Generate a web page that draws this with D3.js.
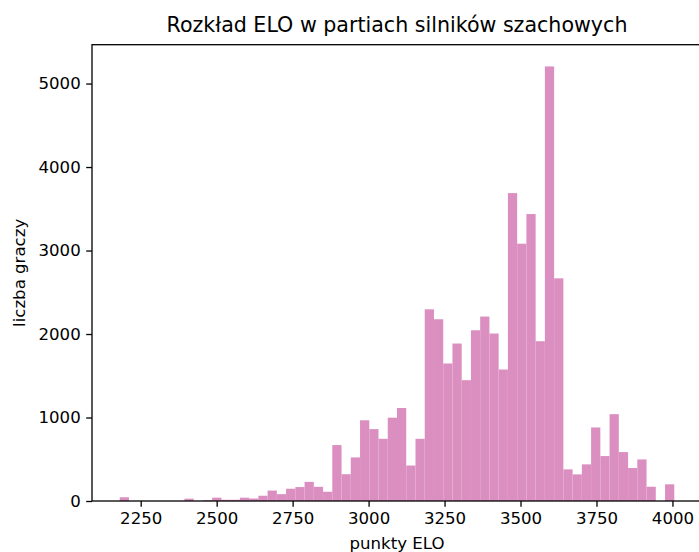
<!DOCTYPE html>
<head>
  <meta charset="utf-8">
  <script src="https://d3js.org/d3.v7.min.js"></script>
  <style>
    body { margin: 0; background: #fff; }
    text { font-family: 'DejaVu Sans', sans-serif; fill: #000; }
    .tick text { font-size: 16.6px; }
    .tick line { stroke: #000; stroke-width: 1.3px; }
    .domain { display: none; }
  </style>
</head>

<body>
  <div id="my_dataviz"></div>

  <script>
    // histogram: 60 bins of ELO points
    var binStart = 2181,
      binEnd = 4006;

    var counts = [45, 0, 0, 0, 0, 0, 0, 28, 0, 10,
      40, 15, 15, 40, 30, 63, 125, 82, 147, 167,
      229, 170, 111, 670, 321, 522, 967, 861, 745, 998,
      1114, 425, 745, 2296, 2177, 1647, 1886, 1447, 2045, 2209,
      2006, 1575, 3688, 3082, 3437, 1914, 5205, 2667, 379, 319,
      439, 881, 538, 1040, 586, 395, 498, 171, 0, 200];

    var xTicks = [2250, 2500, 2750, 3000, 3250, 3500, 3750, 4000];
    var yTicks = [0, 1000, 2000, 3000, 4000, 5000];

    var title = "Rozkład ELO w partiach silników szachowych",
      xTitle = "punkty ELO",
      yTitle = "liczba graczy";

    var width = 699, height = 552;
    var margin = {top: 44.7, right: -3, bottom: 51, left: 92};

    var binWidth = (binEnd - binStart) / counts.length;
    var bins = counts.map((c, i) => ({
      x0: binStart + i * binWidth,
      x1: binStart + (i + 1) * binWidth,
      count: c
    }));

    var svg = d3.select("#my_dataviz")
      .append("svg")
      .attr("width", width)
      .attr("height", height);

    var pad = (binEnd - binStart) * 0.05;
    var x = d3.scaleLinear()
      .domain([binStart - pad, binEnd + pad])
      .range([margin.left, width - margin.right]);

    var y = d3.scaleLinear()
      .domain([0, d3.max(counts) * 1.05])
      .range([height - margin.bottom, margin.top]);

    svg.append("g")
      .selectAll("rect")
      .data(bins)
      .enter()
      .append("rect")
      .attr("x", d => x(d.x0))
      .attr("width", d => x(d.x1) - x(d.x0))
      .attr("y", d => y(d.count))
      .attr("height", d => y(0) - y(d.count))
      .style("fill", "#db8fc1");

    // frame (right spine falls just outside the picture)
    svg.append("rect")
      .attr("x", x.range()[0])
      .attr("y", y.range()[1])
      .attr("width", x.range()[1] - x.range()[0])
      .attr("height", y.range()[0] - y.range()[1])
      .attr("fill", "none")
      .attr("stroke", "#000")
      .attr("stroke-width", 1.3);

    svg.append("g")
      .attr("transform", `translate(0,${y(0)})`)
      .call(d3.axisBottom(x)
        .tickValues(xTicks)
        .tickSize(5.8)
        .tickPadding(5.5)
        .tickFormat(d3.format("d")));

    svg.append("g")
      .attr("transform", `translate(${x.range()[0]},0)`)
      .call(d3.axisLeft(y)
        .tickValues(yTicks)
        .tickSize(5.8)
        .tickPadding(5.5)
        .tickFormat(d3.format("d")));

    svg.append("text")
      .attr("x", (x.range()[0] + x.range()[1]) / 2)
      .attr("y", 32)
      .attr("text-anchor", "middle")
      .style("font-size", "20.6px")
      .text(title);

    svg.append("text")
      .attr("x", (x.range()[0] + x.range()[1]) / 2)
      .attr("y", 549)
      .attr("text-anchor", "middle")
      .style("font-size", "16.6px")
      .text(xTitle);

    svg.append("text")
      .attr("transform", `translate(25,${(y.range()[0] + y.range()[1]) / 2}) rotate(-90)`)
      .attr("text-anchor", "middle")
      .style("font-size", "16.6px")
      .text(yTitle);
  </script>
</body>
